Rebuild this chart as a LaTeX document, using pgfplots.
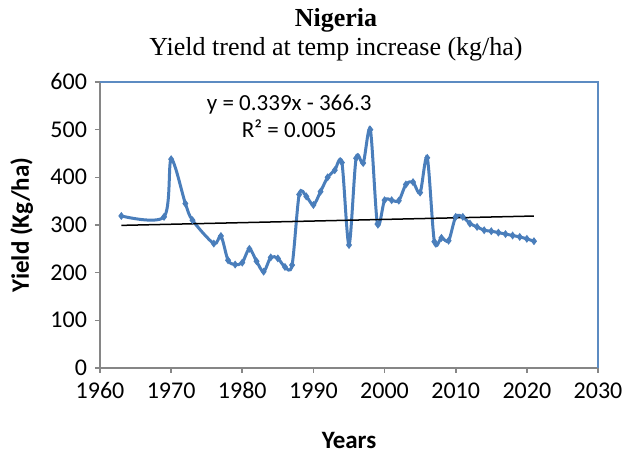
\documentclass[border=0pt]{standalone}
\usepackage{fontspec}
\setmainfont{Liberation Serif}
\setsansfont{Carlito}
\usepackage{pgfplots}
\pgfplotsset{compat=1.18}
\definecolor{xlblue}{HTML}{4A7EBB}
\definecolor{axgray}{HTML}{868686}

\begin{document}
\begin{tikzpicture}
\useasboundingbox (-50pt,-45pt) rectangle (261.5pt,184pt);
\begin{axis}[
    scale only axis,
    width=249pt, height=143pt,
    xmin=1960, xmax=2030, ymin=0, ymax=600,
    xtick distance=10, ytick distance=100,
    axis x line*=bottom, axis y line*=left,
    axis line style={axgray, line width=0.9pt, -},
    tick align=outside, major tick length=2.5pt,
    tick style={axgray, line width=0.8pt},
    /pgf/number format/assume math mode=true,
    /pgf/number format/1000 sep={},
    ticklabel style={font=\sffamily\fontsize{12}{14}\selectfont},
    yticklabel style={xshift=-0.5pt, text height=1.6ex, text depth=0ex},
    xticklabel style={yshift=-2pt, anchor=north, text height=1.6ex, text depth=0ex},
    xlabel={Years}, ylabel={Yield (Kg/ha)},
    label style={font=\sffamily\bfseries\fontsize{12.5}{14}\selectfont},
    xlabel style={at={(axis description cs:0.5,-0.252)}, anchor=center},
    ylabel style={at={(axis description cs:-0.157,0.5)}, anchor=center},
    clip=false,
]
\addplot[xlblue, line width=1.5pt, smooth, tension=0.5,
    mark=diamond*, mark size=1.6pt, mark options={fill=xlblue, draw=xlblue, line width=0.5pt}]
    coordinates {
    (1963,319) (1969,317) (1970,438) (1972,345) (1973,310)
    (1976,261) (1977,277) (1978,226) (1979,217) (1980,221)
    (1981,250) (1982,224) (1983,202) (1984,232) (1985,230)
    (1986,212) (1987,216) (1988,364) (1989,360) (1990,342)
    (1991,370) (1992,400) (1993,415) (1994,431) (1995,258)
    (1996,440) (1997,430) (1998,500) (1999,302) (2000,352)
    (2001,352) (2002,351) (2003,385) (2004,390) (2005,368)
    (2006,441) (2007,265) (2008,273) (2009,267) (2010,317)
    (2011,317) (2012,303) (2013,296) (2014,289) (2015,287)
    (2016,284) (2017,281) (2018,278) (2019,275) (2020,271)
    (2021,266)};
\addplot[black, line width=0.75pt] coordinates {(1963,299.2) (2021,318.8)};
\draw[xlblue!90, line width=0.6pt] (rel axis cs:0,1) -- (rel axis cs:1,1) -- (rel axis cs:1,0);
\node[font=\sffamily\fontsize{11.5}{13}\selectfont, anchor=base] at (axis cs:1986.6,540) {y = 0.339x - 366.3};
\node[font=\sffamily\fontsize{11.5}{13}\selectfont, anchor=base] at (axis cs:1986.6,484) {R² = 0.005};
\end{axis}
\node[anchor=base, font=\bfseries\fontsize{13}{15}\selectfont] at (118pt,170.5pt) {Nigeria};
\node[anchor=base, font=\fontsize{13}{15}\selectfont] at (118pt,156pt) {Yield trend at temp increase (kg/ha)};
\end{tikzpicture}
\end{document}
